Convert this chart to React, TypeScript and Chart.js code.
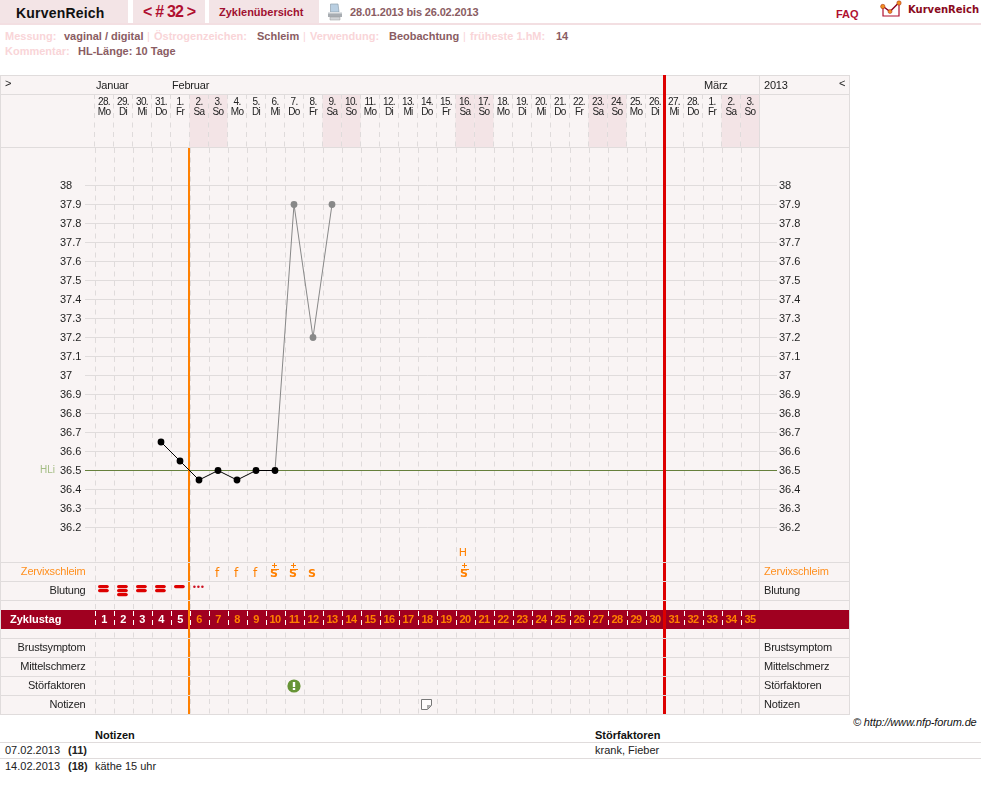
import React, { useEffect, useRef } from "react";
import { Chart, registerables } from "chart.js";

Chart.register(...registerables);

// ---------- data ----------
const dayNumbers = ["28.", "29.", "30.", "31.", "1.", "2.", "3.", "4.", "5.", "6.", "7.", "8.", "9.", "10.", "11.", "12.", "13.", "14.", "15.", "16.", "17.", "18.", "19.", "20.", "21.", "22.", "23.", "24.", "25.", "26.", "27.", "28.", "1.", "2.", "3."];
const weekdays = ["Mo", "Di", "Mi", "Do", "Fr", "Sa", "So", "Mo", "Di", "Mi", "Do", "Fr", "Sa", "So", "Mo", "Di", "Mi", "Do", "Fr", "Sa", "So", "Mo", "Di", "Mi", "Do", "Fr", "Sa", "So", "Mo", "Di", "Mi", "Do", "Fr", "Sa", "So"];
const monthNames = ["Januar", "Februar", "März"];
const monthStartColumns = [0, 4, 32];
const tempTicks = [38, 37.9, 37.8, 37.7, 37.6, 37.5, 37.4, 37.3, 37.2, 37.1, 37, 36.9, 36.8, 36.7, 36.6, 36.5, 36.4, 36.3, 36.2];
const tempCycleDays = [4, 5, 6, 7, 8, 9, 10, 11, 12, 13];
const temperatures = [36.65, 36.55, 36.45, 36.5, 36.45, 36.5, 36.5, 37.9, 37.2, 37.9];
const excludedCycleDays = [11, 12, 13];
const coverLine = 36.5;
const bleedingCycleDays = [1, 2, 3, 4, 5];
const bleedingLevels = [2, 3, 2, 2, 1];
const spottingCycleDays = [6];
const cervixCycleDays = [7, 8, 9, 10, 11, 12, 20];
const cervixSigns = ["f", "f", "f", "S+", "S+", "S", "S+"];
const peakCycleDays = [20];
const peakSigns = ["H"];
const disturbanceCycleDays = [11];
const noteCycleDays = [18];
const lastWhiteCycleDay = 5;
const orangeAfterCycleDay = 5;
const redAfterCycleDay = 30;
const rowLabelsLeft = ["Zervixschleim", "Blutung", "Brustsymptom", "Mittelschmerz", "Störfaktoren", "Notizen"];
const rowLabelIndexes = [1, 2, 5, 6, 7, 8];
const noteDates = ["07.02.2013", "14.02.2013"];
const noteDays = ["(11)", "(18)"];
const noteTexts = ["", "käthe 15 uhr"];
const noteFactors = ["krank, Fieber", ""];

// ---------- style ----------
const FONT = '"Liberation Sans", Arial, sans-serif';
const LINE = "#e0dcdc";
const DASH = "#dfdbdb";
const PANEL = "#f9f4f4";
const SHADE = "#f3e4e6";
const BAND = "#a00020";
const ORANGE = "#ff8000";
const RED = "#dd0000";
const GREY = "#888888";

const font = (size: number, bold = false) => `${bold ? "bold " : ""}${size}px ${FONT}`;

function makeCanvas(w: number, h: number, draw: (c: CanvasRenderingContext2D) => void) {
  const cv = document.createElement("canvas");
  cv.width = w;
  cv.height = h;
  draw(cv.getContext("2d")!);
  return cv;
}

const pillIcon = () =>
  makeCanvas(12, 4, (c) => {
    c.fillStyle = RED;
    c.beginPath();
    c.roundRect(0, 0, 10.8, 3.2, 1.6);
    c.fill();
  });

const dotsIcon = () =>
  makeCanvas(12, 4, (c) => {
    c.fillStyle = "#cc1020";
    [1.4, 5.4, 9.4].forEach((x) => {
      c.beginPath();
      c.arc(x, 1.8, 1.25, 0, Math.PI * 2);
      c.fill();
    });
  });

const alertIcon = () =>
  makeCanvas(14, 14, (c) => {
    c.fillStyle = "#679436";
    c.beginPath();
    c.arc(7, 7, 6.6, 0, Math.PI * 2);
    c.fill();
    c.fillStyle = "#ffffff";
    c.fillRect(5.8, 3, 2.4, 5);
    c.fillRect(5.8, 9, 2.4, 2);
  });

const noteIcon = () =>
  makeCanvas(12, 12, (c) => {
    c.strokeStyle = "#777";
    c.lineWidth = 1;
    c.fillStyle = "#fdfbfb";
    c.beginPath();
    c.moveTo(0.5, 0.5);
    c.lineTo(10.5, 0.5);
    c.lineTo(10.5, 6.5);
    c.lineTo(6.5, 10.5);
    c.lineTo(0.5, 10.5);
    c.closePath();
    c.fill();
    c.stroke();
    c.fillStyle = "#aaa";
    c.beginPath();
    c.moveTo(6, 6);
    c.lineTo(10.5, 6);
    c.lineTo(6, 10.5);
    c.closePath();
    c.fill();
  });

// pixel scale: 19px per 0.1 degree and per row
const AREA_H = 567;
const Y_MAX = 38 + 37.5 / 190;
const Y_MIN = Y_MAX - AREA_H / 190;
const ROW_MIN = -(553 - 148) / 19;
const ROW_MAX = ROW_MIN + AREA_H / 19;
const ROW_LINES = [0.5, 1.5, 2.5, 4.5, 5.5, 6.5, 7.5, 8.5];
const BAND_ROW_TOP = 3;
const BAND_ROW_BOTTOM = 4;
const BLEEDING_TOP_ROW = 2 - 4 / 19;
const BLEEDING_STEP = 4 / 19;

const noPadding = (s: any) => {
  s.paddingTop = 0;
  s.paddingBottom = 0;
  s.paddingLeft = 0;
  s.paddingRight = 0;
};

const framePlugin = {
  id: "frame",
  beforeDraw(chart: any) {
    const { ctx, scales } = chart;
    const x = scales.x;
    const area = chart.chartArea;
    ctx.save();
    ctx.fillStyle = PANEL;
    ctx.fillRect(0, 0, 850, chart.height);
    ctx.fillStyle = SHADE;
    weekdays.forEach((w, i) => {
      if (w === "Sa" || w === "So") {
        const px = x.getPixelForValue(i);
        ctx.fillRect(px - 9.5, 19, 19, area.top - 19);
      }
    });
    ctx.restore();
    if (!x.__spaced) {
      const orig = x.drawLabels.bind(x);
      x.drawLabels = (a: any) => {
        ctx.letterSpacing = "-0.7px";
        orig(a);
        ctx.letterSpacing = "0px";
      };
      x.__spaced = true;
    }
  },
  beforeDatasetsDraw(chart: any) {
    const { ctx, scales } = chart;
    const { x, y, row } = scales;
    const area = chart.chartArea;
    ctx.save();

    const hline = (py: number) => {
      ctx.beginPath();
      ctx.moveTo(0, py);
      ctx.lineTo(850, py);
      ctx.stroke();
    };
    const vline = (px: number, a: number, b: number) => {
      ctx.beginPath();
      ctx.moveTo(px, a);
      ctx.lineTo(px, b);
      ctx.stroke();
    };
    ctx.lineWidth = 1;

    // dashed column lines through the chart area
    ctx.strokeStyle = DASH;
    ctx.setLineDash([5, 4.5]);
    for (let i = 0; i < 35; i++) {
      const px = Math.round(x.getPixelForValue(0) - 9.5 + 19 * i) + 0.5;
      vline(px, area.top, area.bottom);
    }
    ctx.setLineDash([]);

    // frame lines
    ctx.strokeStyle = LINE;
    hline(0.5);
    hline(19.5);
    hline(72.5);
    vline(0.5, 0, chart.height);
    vline(849.5, 0, chart.height);
    vline(759.5, 0, chart.height);

    // cover line
    const hy = Math.floor(y.getPixelForValue(coverLine)) + 0.5;
    ctx.strokeStyle = "#66803c";
    ctx.beginPath();
    ctx.moveTo(85, hy);
    ctx.lineTo(777, hy);
    ctx.stroke();
    ctx.font = font(10);
    ctx.fillStyle = "#a4bd84";
    ctx.textAlign = "left";
    ctx.textBaseline = "middle";
    ctx.fillText("HLi", 40, hy);

    // cycle-day band
    const bt = row.getPixelForValue(BAND_ROW_TOP);
    const bb = row.getPixelForValue(BAND_ROW_BOTTOM);
    ctx.fillStyle = BAND;
    ctx.fillRect(1, bt, 848, bb - bt);
    ctx.strokeStyle = "#ffffff";
    ctx.setLineDash([5, 4]);
    for (let i = 0; i < 35; i++) {
      const px = Math.round(x.getPixelForValue(0) - 9.5 + 19 * i) + 0.5;
      vline(px, bt + 1, bb);
    }
    ctx.setLineDash([]);

    // phase lines
    const boundary = (d: number) => x.getPixelForValue(d - 1) + 9.5;
    ctx.strokeStyle = ORANGE;
    ctx.lineWidth = 2;
    vline(boundary(orangeAfterCycleDay) - 0.5, area.top, area.bottom);
    ctx.strokeStyle = RED;
    ctx.lineWidth = 3;
    vline(boundary(redAfterCycleDay), 0, area.bottom);

    // row lines
    ctx.strokeStyle = LINE;
    ctx.lineWidth = 1;
    ROW_LINES.forEach((r) => hline(Math.floor(row.getPixelForValue(r)) + 0.5));

    // month and side labels
    ctx.fillStyle = "#222";
    ctx.font = font(11);
    ctx.textAlign = "left";
    ctx.textBaseline = "middle";
    ctx.letterSpacing = "-0.2px";
    monthNames.forEach((m, i) => {
      ctx.fillText(m, x.getPixelForValue(monthStartColumns[i]) - 8, 10.5);
    });
    ctx.fillText("2013", 764, 10.5);
    ctx.fillText("<", 839, 9);
    ctx.fillText(">", 5, 9);

    rowLabelsLeft.forEach((label, i) => {
      const py = row.getPixelForValue(rowLabelIndexes[i]);
      ctx.fillStyle = i === 0 ? "#ff9020" : "#222";
      ctx.textAlign = "right";
      ctx.fillText(label, 85.5, py);
      ctx.textAlign = "left";
      ctx.fillText(label, 764, py);
    });

    // band labels
    const by = (bt + bb) / 2;
    ctx.font = font(11, true);
    ctx.fillStyle = "#ffffff";
    ctx.letterSpacing = "0px";
    ctx.fillText("Zyklustag", 10, by);
    ctx.textAlign = "center";
    ctx.letterSpacing = "-0.7px";
    for (let d = 1; d <= 35; d++) {
      ctx.fillStyle = d <= lastWhiteCycleDay ? "#ffffff" : ORANGE;
      ctx.fillText(String(d), x.getPixelForValue(d - 1), by);
    }
    ctx.letterSpacing = "0px";
    ctx.restore();
  },
  afterDatasetsDraw(chart: any) {
    const { ctx } = chart;
    ctx.save();
    ctx.fillStyle = ORANGE;
    ctx.textAlign = "center";
    ctx.textBaseline = "middle";
    chart.data.datasets.forEach((ds: any, di: number) => {
      if (!ds.signs) return;
      chart.getDatasetMeta(di).data.forEach((pt: any, i: number) => {
        const sign: string = ds.signs[i];
        const px = Math.round(pt.x) - 1;
        const py = pt.y;
        if (sign === "H") {
          ctx.font = `11px "DejaVu Sans", ${FONT}`;
          ctx.fillText("H", px - 1, py);
          return;
        }
        ctx.font = sign === "f" ? `12px "DejaVu Sans", ${FONT}` : `bold 11px "DejaVu Sans", ${FONT}`;
        ctx.fillText(sign[0], px, py + 2);
        if (sign.length > 1) {
          ctx.fillRect(px - 3, py - 3, 8, 1);
          ctx.fillRect(px - 2, py - 7, 5, 1);
          ctx.fillRect(px, py - 9, 1, 5);
        }
      });
    });
    ctx.restore();
  },
};

function Label({ x, y, children, bold = true, color = "#222", size = 11, spacing = 0, italic = false, family = FONT }: any) {
  return (
    <span
      style={{
        position: "absolute",
        left: x,
        top: y - 8,
        lineHeight: "16px",
        fontFamily: family,
        fontSize: size,
        fontWeight: bold ? "bold" : "normal",
        fontStyle: italic ? "italic" : "normal",
        letterSpacing: spacing,
        color,
        whiteSpace: "pre",
      }}
    >
      {children}
    </span>
  );
}

function Box({ x, y, w, h, color }: any) {
  return <div style={{ position: "absolute", left: x, top: y, width: w, height: h, background: color }} />;
}

const PALE = "#f9d5d8";
const MUTED = "#8a5c62";

export default function App() {
  const ref = useRef<HTMLCanvasElement>(null);

  useEffect(() => {
    const pill = pillIcon();
    const dots = dotsIcon();
    const alert = alertIcon();
    const note = noteIcon();

    const bleedingPoints: any[] = [];
    bleedingCycleDays.forEach((d, i) => {
      for (let n = 0; n < bleedingLevels[i]; n++) {
        bleedingPoints.push({ x: d, y: BLEEDING_TOP_ROW + n * BLEEDING_STEP });
      }
    });

    const chart = new Chart(ref.current!, {
      type: "line",
      plugins: [framePlugin],
      data: {
        labels: dayNumbers.map((d, i) => [d, weekdays[i]]),
        datasets: [
          {
            data: tempCycleDays.map((d, i) => ({ x: d, y: temperatures[i] })),
            xAxisID: "xDay",
            yAxisID: "y",
            borderWidth: 1,
            borderColor: "#000",
            pointRadius: 3.4,
            pointBorderWidth: 0,
            pointBackgroundColor: (c: any) => (excludedCycleDays.includes(tempCycleDays[c.dataIndex]) ? GREY : "#000"),
            segment: {
              borderColor: (c: any) => (excludedCycleDays.includes(tempCycleDays[c.p1DataIndex]) ? GREY : "#000"),
            },
          },
          {
            data: bleedingPoints,
            xAxisID: "xDay",
            yAxisID: "row",
            showLine: false,
            pointStyle: pill,
          },
          {
            data: spottingCycleDays.map((d) => ({ x: d, y: BLEEDING_TOP_ROW })),
            xAxisID: "xDay",
            yAxisID: "row",
            showLine: false,
            pointStyle: dots,
          },
          {
            data: disturbanceCycleDays.map((d) => ({ x: d, y: 7 })),
            xAxisID: "xDay",
            yAxisID: "row",
            showLine: false,
            pointStyle: alert,
          },
          {
            data: noteCycleDays.map((d) => ({ x: d, y: 8 })),
            xAxisID: "xDay",
            yAxisID: "row",
            showLine: false,
            pointStyle: note,
          },
          {
            data: cervixCycleDays.map((d) => ({ x: d, y: 1 })),
            signs: cervixSigns,
            xAxisID: "xDay",
            yAxisID: "row",
            showLine: false,
            pointRadius: 0,
          },
          {
            data: peakCycleDays.map((d) => ({ x: d, y: 0 })),
            signs: peakSigns,
            xAxisID: "xDay",
            yAxisID: "row",
            showLine: false,
            pointRadius: 0,
          },
        ] as any,
      },
      options: {
        animation: false,
        responsive: false,
        devicePixelRatio: 1,
        events: [],
        layout: { autoPadding: false, padding: { left: 60, right: 0, top: 0, bottom: 0 } },
        plugins: { legend: { display: false }, tooltip: { enabled: false }, title: { display: false } },
        scales: {
          x: {
            type: "category",
            position: "top",
            offset: true,
            border: { display: false },
            afterFit: (s: any) => {
              s.height = 73;
              noPadding(s);
            },
            grid: {
              offset: true,
              drawOnChartArea: false,
              tickColor: DASH,
              tickLength: 54,
              tickBorderDash: [5, 4.5],
            },
            ticks: {
              autoSkip: false,
              maxRotation: 0,
              minRotation: 0,
              padding: -23,
              color: "#222",
              font: { family: FONT, size: 10, lineHeight: 1 },
            },
          } as any,
          xDay: {
            type: "linear",
            display: false,
            min: 0.5,
            max: 35.5,
            ticks: { display: false },
            afterFit: noPadding,
          } as any,
          y: {
            type: "linear",
            position: "left",
            min: Y_MIN,
            max: Y_MAX,
            border: { display: false },
            afterBuildTicks: (s: any) => {
              s.ticks = tempTicks.map((value) => ({ value }));
            },
            afterFit: (s: any) => {
              s.width = 34.5;
              noPadding(s);
            },
            grid: { color: LINE, tickColor: LINE, tickLength: 9.5 },
            ticks: {
              autoSkip: false,
              crossAlign: "far",
              padding: 2,
              color: "#222",
              font: { family: FONT, size: 11 },
              callback: (v: any) => String(v),
            },
          } as any,
          y2: {
            type: "linear",
            position: "right",
            min: Y_MIN,
            max: Y_MAX,
            border: { display: false },
            afterBuildTicks: (s: any) => {
              s.ticks = tempTicks.map((value) => ({ value }));
            },
            afterFit: (s: any) => {
              s.width = 91.5;
              noPadding(s);
            },
            grid: { drawOnChartArea: false, tickColor: LINE, tickLength: 17.5 },
            ticks: {
              autoSkip: false,
              padding: 2,
              color: "#222",
              font: { family: FONT, size: 11 },
              callback: (v: any) => String(v),
            },
          } as any,
          row: {
            type: "linear",
            display: false,
            reverse: true,
            min: ROW_MIN,
            max: ROW_MAX,
            position: "left",
            ticks: { display: false },
            afterFit: noPadding,
          } as any,
        },
      },
    });

    return () => chart.destroy();
  }, []);

  return (
    <div style={{ position: "absolute", left: 0, top: 0, width: 981, height: 794, background: "#fff", overflow: "hidden" }}>
      {/* header bar */}
      <Box x={0} y={0} w={128} h={23} color={SHADE} />
      <Box x={133} y={0} w={72} h={23} color={SHADE} />
      <Box x={209} y={0} w={110} h={23} color={SHADE} />
      <Box x={0} y={23} w={981} h={2} color="#f3dfe2" />
      <Label x={16} y={13} size={14} color="#111" spacing={0.2}>KurvenReich</Label>
      <Label x={143} y={12} size={16} color="#b01030" spacing={-0.8}>{"< # 32 >"}</Label>
      <Label x={219} y={12} color="#a01030">Zyklenübersicht</Label>
      <svg style={{ position: "absolute", left: 327, top: 3 }} width="16" height="18" viewBox="0 0 16 18">
        <path d="M3.5 1 L11 1 L12 9 L3.5 9 Z" fill="#b9cfe2" stroke="#8fa0ae" strokeWidth="0.7" />
        <path d="M1 9 L15 9 L15 14 L1 14 Z" fill="#a8adb2" />
        <path d="M3 14 L13 14 L13 17 L3 17 Z" fill="#d2d5d8" stroke="#999" strokeWidth="0.5" />
        <path d="M1 9 L15 9 L15 10.5 L1 10.5 Z" fill="#dfe2e5" />
      </svg>
      <Label x={350} y={12} color={MUTED} spacing={-0.15}>28.01.2013 bis 26.02.2013</Label>
      <Label x={836} y={14} color="#b01030">FAQ</Label>
      <svg style={{ position: "absolute", left: 880, top: 0 }} width="24" height="18" viewBox="0 0 24 18">
        <path d="M3 7 L3 16 L19 16 L19 4" fill="none" stroke="#b01030" strokeWidth="1.2" />
        <path d="M2.5 6 L10 11.5 L19 2.5" fill="none" stroke="#8a0020" strokeWidth="1.4" />
        <circle cx="2.8" cy="6.5" r="2.2" fill="#f09020" stroke="#a02010" strokeWidth="0.5" />
        <circle cx="10" cy="11.5" r="2" fill="#f09020" stroke="#a02010" strokeWidth="0.5" />
        <circle cx="19" cy="3" r="2.2" fill="#f09020" stroke="#a02010" strokeWidth="0.5" />
      </svg>
      <Label x={908} y={10} size={10} color="#8a0a20" family='"DejaVu Sans", sans-serif'>KurvenReich</Label>

      {/* cycle info */}
      <Label x={5} y={36} color={PALE}>Messung:</Label>
      <Label x={64} y={36} color={MUTED}>vaginal / digital</Label>
      <Label x={147} y={36} bold={false} color={PALE}>|</Label>
      <Label x={154} y={36} color={PALE}>Östrogenzeichen:</Label>
      <Label x={257} y={36} color={MUTED}>Schleim</Label>
      <Label x={303} y={36} bold={false} color={PALE}>|</Label>
      <Label x={310} y={36} color={PALE}>Verwendung:</Label>
      <Label x={389} y={36} color={MUTED}>Beobachtung</Label>
      <Label x={463} y={36} bold={false} color={PALE}>|</Label>
      <Label x={470} y={36} color={PALE}>früheste 1.hM:</Label>
      <Label x={556} y={36} color={MUTED}>14</Label>
      <Label x={5} y={51} color={PALE}>Kommentar:</Label>
      <Label x={78} y={51} color={MUTED}>HL-Länge: 10 Tage</Label>

      <canvas ref={ref} width={851} height={640} style={{ position: "absolute", left: 0, top: 75, width: 851, height: 640 }} />

      {/* footer */}
      <Label x={853} y={722} bold={false} italic color="#111" spacing={-0.15}>© http://www.nfp-forum.de</Label>
      <Label x={95} y={735} color="#111">Notizen</Label>
      <Label x={595} y={735} color="#111">Störfaktoren</Label>
      <Box x={0} y={742} w={981} h={1} color={LINE} />
      <Box x={0} y={758} w={981} h={1} color={LINE} />
      {noteDates.map((d, i) => (
        <React.Fragment key={d}>
          <Label x={5} y={750 + i * 16} bold={false} color="#222">{d}</Label>
          <Label x={68} y={750 + i * 16} color="#222">{noteDays[i]}</Label>
          <Label x={95} y={750 + i * 16} bold={false} color="#222">{noteTexts[i]}</Label>
          <Label x={595} y={750 + i * 16} bold={false} color="#222">{noteFactors[i]}</Label>
        </React.Fragment>
      ))}
    </div>
  );
}
